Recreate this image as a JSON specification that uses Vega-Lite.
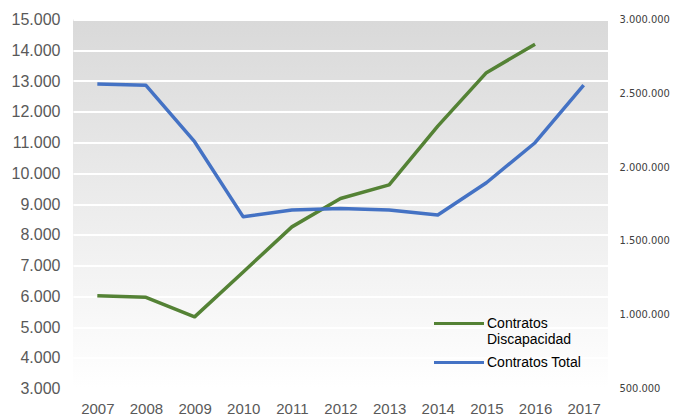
{
  "$schema": "https://vega.github.io/schema/vega-lite/v6.json",
  "width": 535,
  "height": 369,
  "autosize": {"type": "none"},
  "padding": {"left": 73, "top": 19.5, "right": 69, "bottom": 27.5},
  "background": "#ffffff",
  "config": {
    "locale": {"number": {"decimal": ",", "thousands": ".", "grouping": [3], "currency": ["", " €"]}},
    "font": "Liberation Sans",
    "view": {
      "stroke": null,
      "fill": {"gradient": "linear", "x1": 0, "y1": 0, "x2": 0, "y2": 1, "stops": [{"offset": 0, "color": "#d9d9d9"}, {"offset": 1, "color": "#ffffff"}]}
    }
  },
  "data": {
    "values": [
      {"year": "2007", "serie": "Contratos Discapacidad", "value": 6020},
      {"year": "2008", "serie": "Contratos Discapacidad", "value": 5967},
      {"year": "2009", "serie": "Contratos Discapacidad", "value": 5330},
      {"year": "2010", "serie": "Contratos Discapacidad", "value": 6790},
      {"year": "2011", "serie": "Contratos Discapacidad", "value": 8256},
      {"year": "2012", "serie": "Contratos Discapacidad", "value": 9178},
      {"year": "2013", "serie": "Contratos Discapacidad", "value": 9621},
      {"year": "2014", "serie": "Contratos Discapacidad", "value": 11533},
      {"year": "2015", "serie": "Contratos Discapacidad", "value": 13271},
      {"year": "2016", "serie": "Contratos Discapacidad", "value": 14195},
      {"year": "2007", "serie": "Contratos Total", "value": 2563000},
      {"year": "2008", "serie": "Contratos Total", "value": 2554000},
      {"year": "2009", "serie": "Contratos Total", "value": 2172000},
      {"year": "2010", "serie": "Contratos Total", "value": 1663000},
      {"year": "2011", "serie": "Contratos Total", "value": 1709000},
      {"year": "2012", "serie": "Contratos Total", "value": 1720000},
      {"year": "2013", "serie": "Contratos Total", "value": 1709000},
      {"year": "2014", "serie": "Contratos Total", "value": 1675000},
      {"year": "2015", "serie": "Contratos Total", "value": 1894000},
      {"year": "2016", "serie": "Contratos Total", "value": 2165000},
      {"year": "2017", "serie": "Contratos Total", "value": 2556000}
    ]
  },
  "encoding": {
    "x": {
      "field": "year",
      "type": "ordinal",
      "title": null,
      "axis": {"labelAngle": 0, "labelFontSize": 15, "labelColor": "#595959", "domain": false, "ticks": false, "grid": false, "labelPadding": 13}
    },
    "color": {
      "field": "serie",
      "type": "nominal",
      "scale": {"domain": ["Contratos Discapacidad", "Contratos Total"], "range": ["#548235", "#4472c4"]},
      "legend": {
        "title": null,
        "orient": "none",
        "legendX": 359,
        "legendY": 297,
        "rowPadding": 9,
        "symbolType": "M-1,0H9",
        "symbolSize": 100,
        "symbolStrokeWidth": 3,
        "labelFontSize": 14,
        "labelColor": "#000000",
        "labelOffset": 41,
        "labelLimit": 300,
        "labelExpr": "datum.label == 'Contratos Discapacidad' ? ['Contratos', 'Discapacidad'] : datum.label"
      }
    }
  },
  "layer": [
    {
      "transform": [{"filter": "datum.serie == 'Contratos Discapacidad'"}],
      "mark": {"type": "line", "strokeWidth": 3.5, "strokeJoin": "round"},
      "encoding": {
        "y": {
          "field": "value",
          "type": "quantitative",
          "title": null,
          "scale": {"domain": [3000, 15000], "nice": false, "zero": false},
          "axis": {"orient": "left", "values": [3000, 4000, 5000, 6000, 7000, 8000, 9000, 10000, 11000, 12000, 13000, 14000, 15000], "format": ",d", "labelFontSize": 16, "labelColor": "#595959", "labelPadding": 13, "domain": false, "ticks": false, "grid": true, "gridColor": "#ffffff", "gridWidth": 2, "gridOpacity": 1}
        }
      }
    },
    {
      "transform": [{"filter": "datum.serie == 'Contratos Total'"}],
      "mark": {"type": "line", "strokeWidth": 3.5, "strokeJoin": "round"},
      "encoding": {
        "y": {
          "field": "value",
          "type": "quantitative",
          "title": null,
          "scale": {"domain": [500000, 3000000], "nice": false, "zero": false},
          "axis": {"orient": "right", "values": [500000, 1000000, 1500000, 2000000, 2500000, 3000000], "format": ",d", "labelFont": "Liberation Sans Narrow, DejaVu Sans Condensed, Liberation Sans", "labelFontSize": 11, "labelColor": "#404040", "labelPadding": 11, "domain": false, "ticks": false, "grid": false}
        }
      }
    }
  ],
  "resolve": {"scale": {"y": "independent"}}
}
